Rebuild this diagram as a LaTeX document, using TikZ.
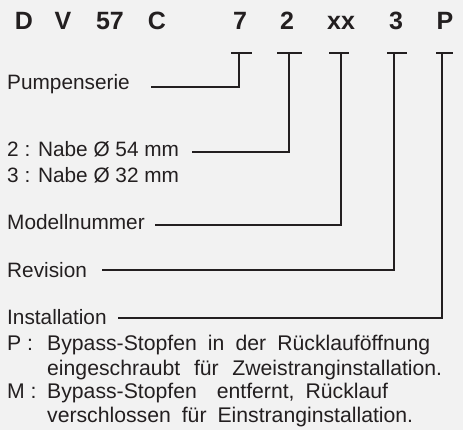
\documentclass[tikz,border=0pt]{standalone}
\usepackage{fontspec}
\setmainfont{Liberation Sans}
\definecolor{bg}{HTML}{F2F2F2}
\definecolor{ink}{HTML}{231F20}
\begin{document}
\begin{tikzpicture}[x=1pt,y=-1pt,
  hdr/.style={anchor=base,inner sep=0pt,font=\fontsize{25}{30}\selectfont\bfseries,text=ink},
  lbl/.style={anchor=base west,inner sep=0pt,font=\fontsize{20.8}{24}\selectfont,text=ink},
  desc/.style={anchor=base west,inner sep=0pt,font=\fontsize{21.2}{24}\selectfont,text=ink},
  conn/.style={draw=ink,line width=2.6pt},
  tbar/.style={draw=ink,line width=2.6pt}]
\fill[bg] (0,0) rectangle (463,430);
\useasboundingbox (0,0) rectangle (463,430);
% header
\node[hdr] (hD) at (24,30) {D};
\node[hdr] (hV) at (63,30) {V};
\node[hdr] (h57) at (110,30) {57};
\node[hdr] (hC) at (157,30) {C};
\node[hdr] (h7) at (240,30) {7};
\node[hdr] (h2) at (287,30) {2};
\node[hdr] (hxx) at (341,30) {xx};
\node[hdr] (h3) at (396,30) {3};
\node[hdr] (hP) at (445,30) {P};
% T tops
\coordinate (t7) at (239,53);
\coordinate (t2) at (289,53);
\coordinate (txx) at (341,53);
\coordinate (t3) at (394,53);
\coordinate (tP) at (442,53);
% labels
\node[lbl] (pump) at (7,90) {Pumpenserie};
\node[lbl] (nabe1) at (7,157) {2 : Nabe Ø 54 mm};
\node[lbl] (nabe2) at (7,183) {3 : Nabe Ø 32 mm};
\node[lbl] (modell) at (7,230) {Modellnummer};
\node[lbl] (rev) at (7,277) {Revision};
\node[lbl] (inst) at (7,324) {Installation};
\node[desc] (pkey) at (7,350) {P :};
\node[desc] (p1) at (47,350) {\makebox[383pt][s]{Bypass-Stopfen in der Rücklauföffnung}};
\node[desc] (p2) at (47,375) {\makebox[395pt][s]{eingeschraubt für Zweistranginstallation.}};
\node[desc] (mkey) at (7,398) {M :};
\node[desc] (m1) at (47,398) {Bypass-Stopfen\hspace{20pt}entfernt,\hspace{11pt}Rücklauf};
\node[desc] (m2) at (47,422) {\makebox[366pt][s]{verschlossen für Einstranginstallation.}};
% line ends
\coordinate (e7) at (151,87);
\coordinate (e2) at (192,152);
\coordinate (exx) at (155,225);
\coordinate (e3) at (102,270);
\coordinate (eP) at (118,318);
% T bars
\foreach \t/\l/\r in {t7/-8/13, t2/-12/13, txx/-12/8, t3/-7/13, tP/-6/11}
  \draw[tbar] ([xshift=\l pt]\t) -- ([xshift=\r pt]\t);
% connectors
\draw[conn] (t7) |- (e7);
\draw[conn] (t2) |- (e2);
\draw[conn] (txx) |- (exx);
\draw[conn] (t3) |- (e3);
\draw[conn] (tP) |- (eP);
\end{tikzpicture}
\end{document}
